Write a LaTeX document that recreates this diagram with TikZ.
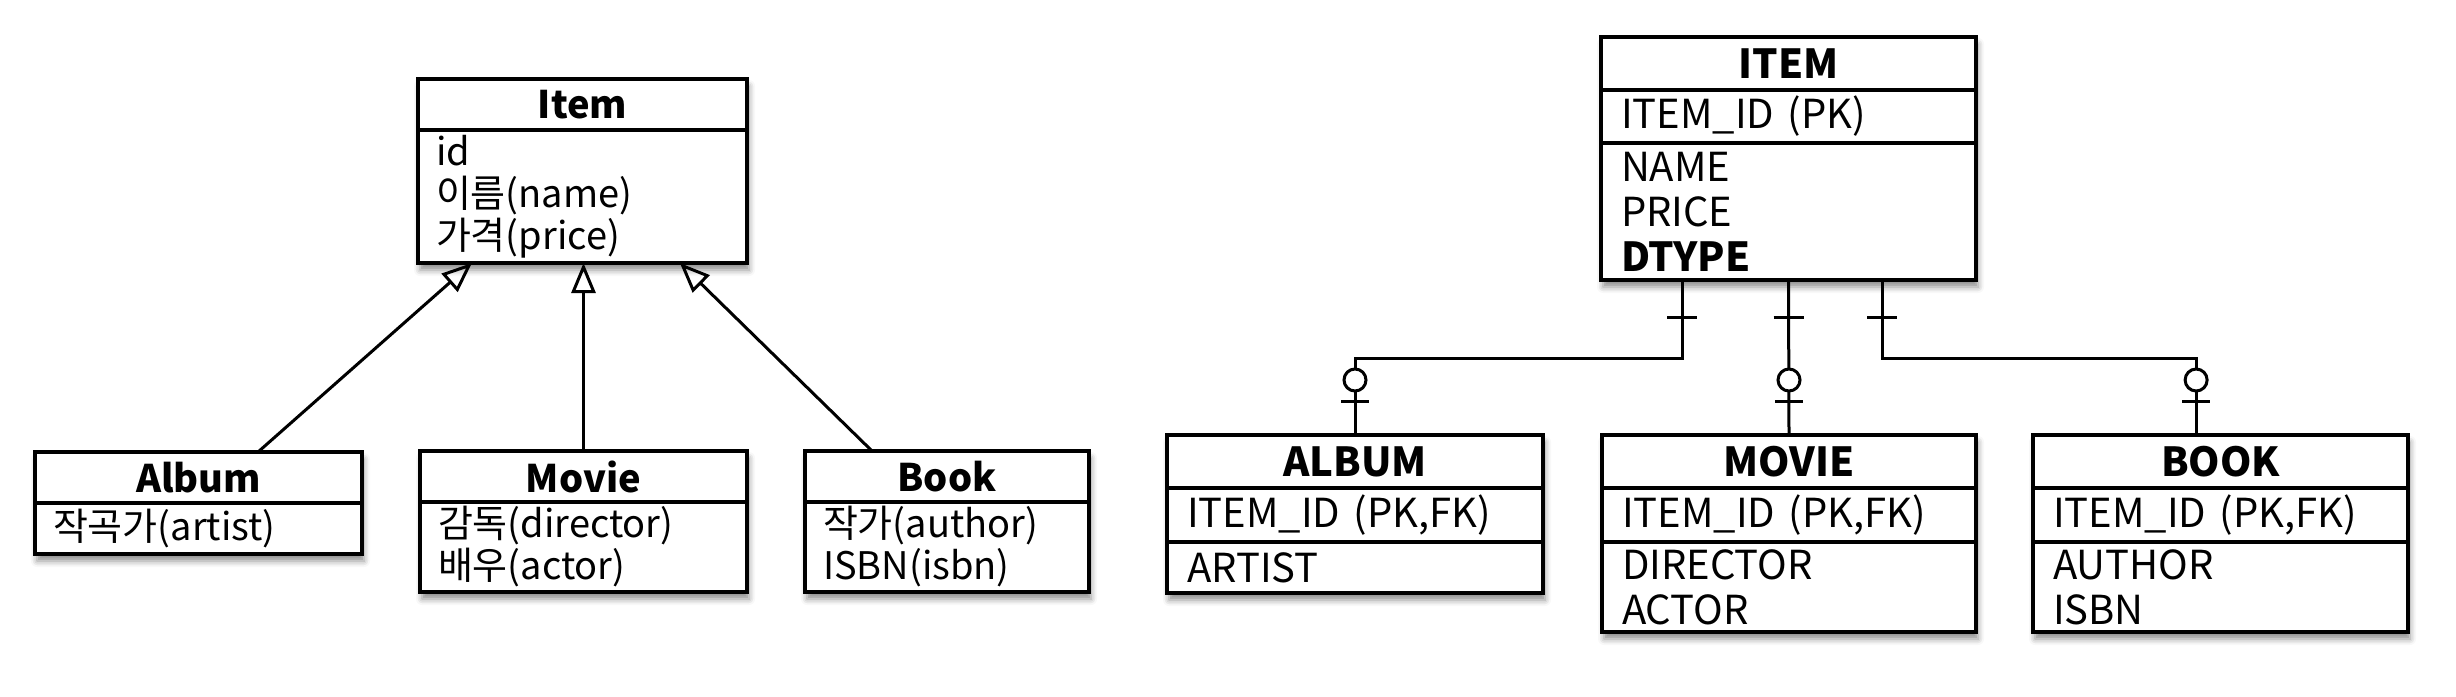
\documentclass[tikz,border=0pt]{standalone}
\usepackage{fontspec}
\setmainfont{Noto Sans CJK KR}
\usetikzlibrary{arrows.meta,calc,fit,backgrounds,shadows.blur}
\begin{document}
\begin{tikzpicture}[x=1pt,y=-1pt,
  cell/.style={draw, line width=4pt, fill=white, inner ysep=0pt, outer sep=0pt, anchor=north west},
  ltitle/.style={cell, font=\fontsize{38}{44}\selectfont\bfseries, align=center},
  lbody/.style={cell, font=\fontsize{38}{42}\selectfont, align=left, inner xsep=18pt},
  rtitle/.style={cell, font=\fontsize{40}{46}\selectfont\bfseries, align=center},
  rbody/.style={cell, font=\fontsize{40}{45}\selectfont, align=left, inner xsep=20pt},
  shad/.style={inner sep=0pt, outer sep=0pt, fill=white, blur shadow={shadow xshift=2pt, shadow yshift=-7pt, shadow blur radius=6pt, shadow opacity=45}},
  inh/.style={line width=3pt, -{Triangle[open, length=30pt, width=24pt, line width=3pt]}},
  er/.style={line width=3pt},
]
\useasboundingbox (0,0) rectangle (2456,696);

% ---------- left: class diagram ----------
\node[ltitle, minimum width=329, minimum height=51] (itemH) at (418,79) {Item};
\node[lbody, text width=293, minimum height=133] (itemB) at (itemH.south west) {id\\이름(name)\\가격(price)};

\node[ltitle, minimum width=327, minimum height=51] (albumH) at (35,452) {Album};
\node[lbody, text width=291, minimum height=51] (albumB) at (albumH.south west) {작곡가(artist)};

\node[ltitle, minimum width=327, minimum height=51] (movieH) at (420,451) {Movie};
\node[lbody, text width=291, minimum height=90] (movieB) at (movieH.south west) {감독(director)\\배우(actor)};

\node[ltitle, minimum width=284, minimum height=51] (bookH) at (805,451) {Book};
\node[lbody, text width=248, minimum height=90] (bookB) at (bookH.south west) {작가(author)\\ISBN(isbn)};

% ---------- right: tables ----------
\node[rtitle, minimum width=375, minimum height=53] (ITEMH) at (1601,37) {ITEM};
\node[rbody, text width=335, minimum height=53] (ITEMK) at (ITEMH.south west) {ITEM\_ID (PK)};
\node[rbody, text width=335, minimum height=137] (ITEMB) at (ITEMK.south west) {NAME\\PRICE\\{\bfseries DTYPE}};

\node[rtitle, minimum width=376, minimum height=53] (ALBUMH) at (1167,435) {ALBUM};
\node[rbody, text width=336, minimum height=54] (ALBUMK) at (ALBUMH.south west) {ITEM\_ID (PK,FK)};
\node[rbody, text width=336, minimum height=51] (ALBUMB) at (ALBUMK.south west) {ARTIST};

\node[rtitle, minimum width=374, minimum height=53] (MOVIEH) at (1602,435) {MOVIE};
\node[rbody, text width=334, minimum height=54] (MOVIEK) at (MOVIEH.south west) {ITEM\_ID (PK,FK)};
\node[rbody, text width=334, minimum height=90] (MOVIEB) at (MOVIEK.south west) {DIRECTOR\\ACTOR};

\node[rtitle, minimum width=375, minimum height=53] (BOOKH) at (2033,435) {BOOK};
\node[rbody, text width=335, minimum height=54] (BOOKK) at (BOOKH.south west) {ITEM\_ID (PK,FK)};
\node[rbody, text width=335, minimum height=90] (BOOKB) at (BOOKK.south west) {AUTHOR\\ISBN};

% ---------- shadows ----------
\begin{scope}[on background layer]
  \node[shad, fit=(itemH)(itemB)] (itemS) {};
  \node[shad, fit=(albumH)(albumB)] (albumS) {};
  \node[shad, fit=(movieH)(movieB)] (movieS) {};
  \node[shad, fit=(bookH)(bookB)] (bookS) {};
  \node[shad, fit=(ITEMH)(ITEMB)] (ITEMS) {};
  \node[shad, fit=(ALBUMH)(ALBUMB)] (ALBUMS) {};
  \node[shad, fit=(MOVIEH)(MOVIEB)] (MOVIES) {};
  \node[shad, fit=(BOOKH)(BOOKB)] (BOOKS) {};
\end{scope}

% ---------- inheritance arrows ----------
\draw[inh] ($(albumH.north west)!0.682!(albumH.north east)$) -- ($(itemB.south west)!0.164!(itemB.south east)$);
\draw[inh] (movieH.north) -- (movieH.north |- itemB.south);
\draw[inh] ($(bookH.north west)!0.236!(bookH.north east)$) -- ($(itemB.south west)!0.796!(itemB.south east)$);

% ---------- ER relations ----------
\coordinate (t1) at ($(ITEMB.south west)!0.216!(ITEMB.south east)$);
\coordinate (t2) at ($(ITEMB.south west)!0.5!(ITEMB.south east)$);
\coordinate (t3) at ($(ITEMB.south west)!0.75!(ITEMB.south east)$);
\coordinate (c1) at (ALBUMH.north);
\coordinate (c2) at (MOVIEH.north);
\coordinate (c3) at ($(BOOKH.north west)!0.435!(BOOKH.north east)$);

\draw[er] (t1) -- ++(0,78) -| (c1);
\draw[er] (t2) -- (c2);
\draw[er] (t3) -- ++(0,78) -| (c3);

\foreach \t in {t1,t2,t3} {
  \draw[er] ($(\t)+(-15,37)$) -- ++(30,0);
}
\foreach \c in {c1,c2,c3} {
  \draw[er, fill=white] ($(\c)+(0,-55)$) circle[radius=11pt];
  \draw[er] ($(\c)+(-14,-34)$) -- ++(28,0);
}
\end{tikzpicture}
\end{document}
